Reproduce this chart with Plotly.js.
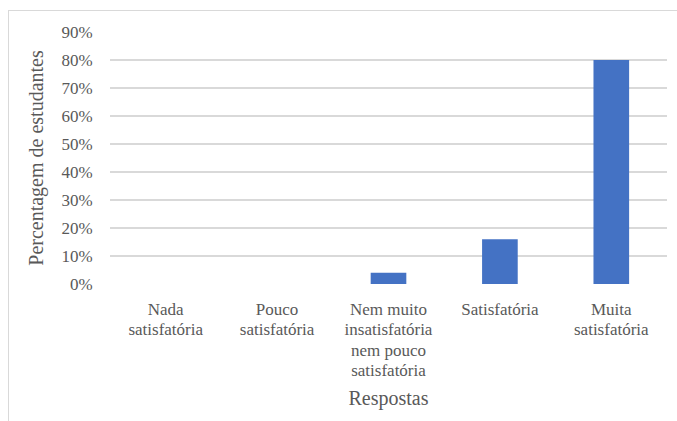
<!DOCTYPE html>
<html>
<head>
<meta charset="utf-8">
<script src="https://cdn.plot.ly/plotly-3.0.1.min.js"></script>
<style>
  html, body { margin: 0; padding: 0; background: #ffffff; }
  #wrap { position: relative; width: 677px; height: 421px; overflow: hidden; }
  #chart { position: absolute; left: 0; top: 0; width: 677px; height: 421px; }
  /* light frame around the chart area (top and left edges) */
  #frame {
    position: absolute; left: 8px; top: 10px; width: 700px; height: 440px;
    border-top: 1.5px solid #d9d9d9; border-left: 1.5px solid #d9d9d9;
    pointer-events: none;
  }
  #chart text { font-family: "Liberation Serif", serif !important; }
</style>
</head>
<body>
<div id="wrap">
  <div id="chart"></div>
  <div id="frame"></div>
</div>
<script>
// Survey answers and share of students for each answer
const categories = [
  'Nada<br>satisfatória',
  'Pouco<br>satisfatória',
  'Nem muito<br>insatisfatória<br>nem pouco<br>satisfatória',
  'Satisfatória',
  'Muita<br>satisfatória'
];
const shares = [0.00, 0.00, 0.04, 0.16, 0.80];
const yTicks = [0, 0.1, 0.2, 0.3, 0.4, 0.5, 0.6, 0.7, 0.8, 0.9];
const yTickLabels = ['0%', '10%', '20%', '30%', '40%', '50%', '60%', '70%', '80%', '90%'];

const textColor = '#595959';

const trace = {
  type: 'bar',
  x: categories,
  y: shares,
  marker: { color: '#4472C4', line: { width: 0 } },
  hoverinfo: 'skip'
};

// all text takes its family, size and colour from layout.font
const layout = {
  width: 677,
  height: 421,
  margin: { l: 110, r: 10, t: 32, b: 137, pad: 0 },
  paper_bgcolor: 'rgba(0,0,0,0)',
  plot_bgcolor: '#ffffff',
  bargap: 0.68,
  showlegend: false,
  font: { family: 'Liberation Serif, serif', color: textColor, size: 17 },
  xaxis: {
    type: 'category',
    showgrid: false,
    showline: false,
    zeroline: false,
    ticks: 'outside',
    ticklen: 10,
    tickcolor: 'rgba(0,0,0,0)',
    tickangle: 0,
    title: { text: 'Respostas', standoff: 6 },
    fixedrange: true
  },
  yaxis: {
    range: [0, 0.9],
    tickvals: yTicks,
    ticktext: yTickLabels,
    showgrid: true,
    gridcolor: '#d9d9d9',
    gridwidth: 1.3,
    showline: false,
    zeroline: false,
    ticks: 'outside',
    ticklen: 13,
    tickcolor: 'rgba(0,0,0,0)',
    title: { text: 'Percentagem de estudantes', standoff: 12 },
    fixedrange: true
  }
};

Plotly.newPlot('chart', [trace], layout, { displayModeBar: false, staticPlot: true }).then(function (gd) {
  gd.querySelectorAll('text').forEach(function (el) {
    el.style.setProperty('font-family', '"Liberation Serif", serif', 'important');
  });
  // tighten the line spacing of the multi-line category labels
  gd.querySelectorAll('.xtick text tspan.line').forEach(function (t) {
    const dy = parseFloat(t.getAttribute('dy'));
    if (!isNaN(dy) && dy > 0) {
      t.setAttribute('dy', (dy * 1.18 / 1.3) + 'em');
    }
  });
});
</script>
</body>
</html>
